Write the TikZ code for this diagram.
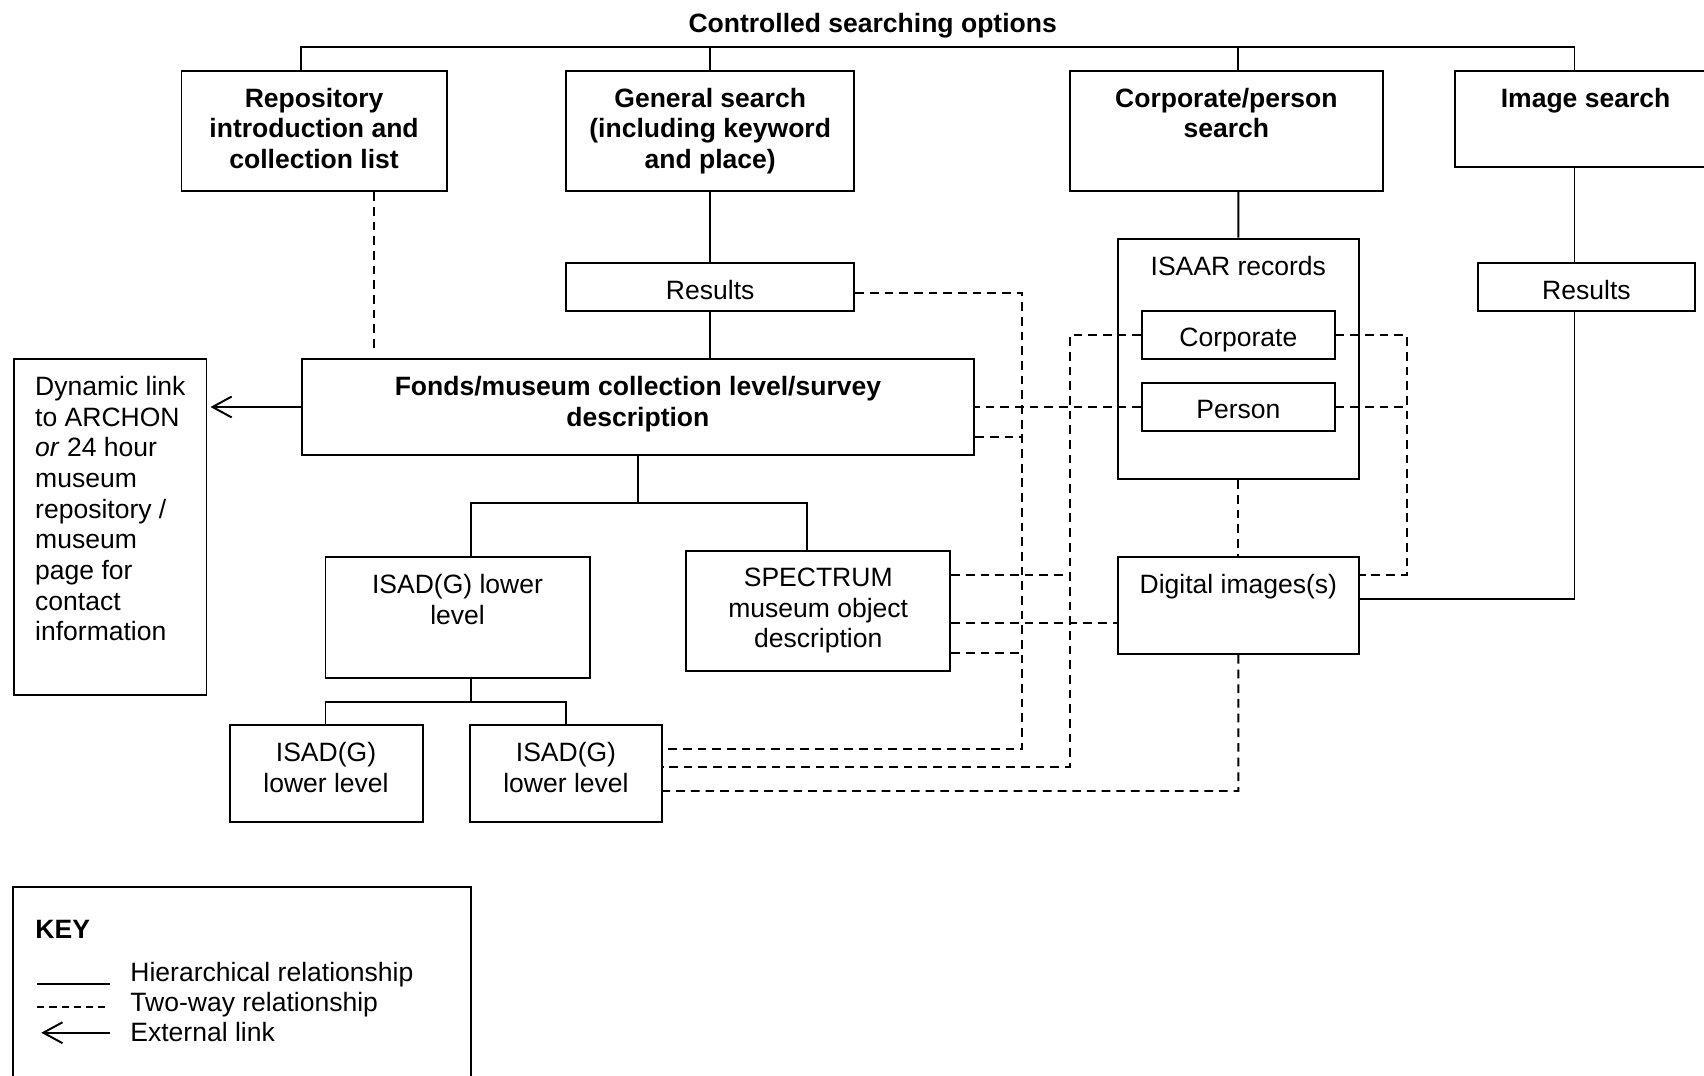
\documentclass[tikz,border=0pt]{standalone}
\usepackage{fontspec}
\setmainfont{Liberation Sans}
\usetikzlibrary{arrows.meta}
\newcommand\fs{\fontsize{12.2}{14.1}\selectfont}
\newcommand\mkbox[5]{%
  \node[boxshape, minimum width={(#4-#2)*0.5pt}, minimum height={(#5-#3)*0.5pt}] (#1) at ({(#2+#4)/2},{(#3+#5)/2}) {};}
\tikzset{
  boxshape/.style={draw, line width=0.9pt, inner sep=0pt, rectangle},
  txt/.style={inner sep=0pt, align=center, font=\fs},
  btxt/.style={inner sep=0pt, align=center, font=\fs\bfseries},
  hier/.style={line width=0.9pt},
  tw/.style={line width=0.85pt, dash pattern=on 4pt off 2.75pt},
  twkey/.style={line width=0.7pt, dash pattern=on 3.3pt off 2.3pt},
  ext/.style={line width=0.9pt, -{Straight Barb[length=8.8pt,width=9.6pt,line width=0.9pt]}},
}
\begin{document}
\begin{tikzpicture}[x=0.5pt, y=-0.5pt]
\useasboundingbox (0,0) rectangle (1568,990);
\clip (0,0) rectangle (1568,990);

% boxes
\mkbox{rep}{167}{65}{411}{176}
\mkbox{gen}{521}{65}{786}{176}
\mkbox{cps}{984.6}{65}{1272.4}{176}
\mkbox{img}{1338.5}{65}{1600}{153.7}
\mkbox{res1}{521}{241.7}{786}{286.5}
\mkbox{res2}{1360}{241.7}{1559.6}{286.5}
\mkbox{isaar}{1028.8}{219.6}{1250.3}{441.1}
\mkbox{corp}{1050.8}{285.9}{1228.2}{330.7}
\mkbox{pers}{1050.8}{352.1}{1228.2}{396.9}
\mkbox{dyn}{13.2}{330.6}{190}{639.9}
\mkbox{fonds}{277.5}{330.6}{896.5}{418.7}
\mkbox{isad}{299.5}{512.9}{543}{623.9}
\mkbox{spec}{631.3}{507}{874.4}{617.2}
\mkbox{dig}{1028.8}{512.9}{1250.3}{601.8}
\mkbox{llA}{211.3}{667.5}{388.8}{756.4}
\mkbox{llB}{432.6}{667.5}{609}{756.4}
\mkbox{key}{12.3}{816.5}{433.1}{1010}

% texts
\node[btxt] (title) at (803,23.5) {Controlled searching options};
\node[btxt] (t-rep) at (289,118) {Repository\\introduction and\\collection list};
\node[btxt] (t-gen) at (653.5,120.6) {General search\\(including keyword\\and place)};
\node[btxt] (t-cps) at (1128.5,104) {Corporate/person\\search};
\node[btxt] (t-img) at (1459,92.6) {Image search};
\node[txt] (t-res1) at (653.5,267) {Results};
\node[txt] (t-res2) at (1459.8,267) {Results};
\node[txt] (t-isaar) at (1139.5,245) {ISAAR records};
\node[txt] (t-corp) at (1139.5,313) {Corporate};
\node[txt] (t-pers) at (1139.5,376.5) {Person};
\node[btxt] (t-fonds) at (587,371.6) {Fonds/museum collection level/survey\\description};
\node[txt, align=left, anchor=west] (t-dyn) at (32,468) {Dynamic link\\to ARCHON\\\textit{or} 24 hour\\museum\\repository /\\museum\\page for\\contact\\information};
\node[txt] (t-isad) at (421,551.5) {ISAD(G) lower\\level};
\node[txt] (t-spec) at (752.9,562) {SPECTRUM\\museum object\\description};
\node[txt] (t-dig) at (1139.5,539.6) {Digital images(s)};
\node[txt] (t-llA) at (300,706) {ISAD(G)\\lower level};
\node[txt] (t-llB) at (520.8,706) {ISAD(G)\\lower level};

% hierarchical connectors
\coordinate (busL) at (277.3,43);
\coordinate (busR) at (1448.8,43);
\coordinate (busG) at (653.5,43);
\coordinate (busC) at (1139.5,43);
\draw[hier] (busL |- rep.north) -- (busL) -- (busR) -- (busR |- img.north);
\draw[hier] (busG) -- (busG |- gen.north);
\draw[hier] (busC) -- (busC |- cps.north);
\draw[hier] (gen.south) -- (res1.north);
\draw[hier] (res1.south) -- (res1.south |- fonds.north);
\draw[hier] (busC |- cps.south) -- (isaar.north);
\draw[hier] (busR |- img.south) -- (busR |- res2.north);
\coordinate (j1) at (1448.8,551.5);
\draw[hier] (busR |- res2.south) -- (j1) -- (j1 -| dig.east);

\coordinate (fb) at (587.4,462.6);
\coordinate (fbL) at (433.1,462.6);
\coordinate (fbR) at (742.2,462.6);
\draw[hier] (fb |- fonds.south) -- (fb);
\draw[hier] (fbL |- isad.north) -- (fbL) -- (fbR) -- (fbR |- spec.north);
\coordinate (ib) at (433.1,646);
\coordinate (ibL) at (299.5,646);
\coordinate (ibR) at (520.9,646);
\draw[hier] (ib |- isad.south) -- (ib);
\draw[hier] (ibL |- llA.north) -- (ibL) -- (ibR) -- (ibR |- llB.north);

% external link
\coordinate (ay) at (0,374.5);
\draw[ext, shorten >=1.4pt] (ay -| fonds.west) -- (ay -| dyn.east);

% two-way connectors
\coordinate (r1) at (344.5,0);
\draw[tw, shorten >=3.5pt] (r1 |- rep.south) -- (r1 |- fonds.north);
\coordinate (a1) at (940.6,270);
\coordinate (a2) at (940.6,689.6);
\draw[tw] (a1 -| res1.east) -- (a1) -- (a2) -- (a2 -| llB.east);
\coordinate (b1) at (984.6,308.3);
\coordinate (b2) at (984.6,705.5);
\draw[tw] (corp.west) -- (b1) -- (b2) -- (b2 -| llB.east);
\coordinate (c1) at (1294.4,308.3);
\coordinate (c2) at (1294.4,529.1);
\draw[tw] (corp.east) -- (c1) -- (c2) -- (c2 -| dig.east);
\draw[tw] (pers.east) -- (pers.east -| c1);
\draw[tw] (pers.west) -- (pers.west -| fonds.east);
\coordinate (fy) at (0,402.1);
\draw[tw] (fy -| fonds.east) -- (fy -| a1);
\draw[tw] (isaar.south) -- (dig.north);
\coordinate (d1) at (1139.5,727.9);
\draw[tw] (dig.south) -- (d1) -- (d1 -| llB.east);
\coordinate (s1) at (0,529.1);
\draw[tw] (s1 -| spec.east) -- (s1 -| b1);
\coordinate (s2) at (0,573.3);
\draw[tw] (s2 -| spec.east) -- (s2 -| dig.west);
\coordinate (s3) at (0,601.2);
\draw[tw] (s3 -| spec.east) -- (s3 -| a1);

% key
\node[btxt, anchor=west] (t-key) at (32.2,855) {KEY};
\coordinate (k1a) at (34.3,905.5); \coordinate (k1b) at (101.2,905.5);
\coordinate (k2a) at (34.3,926.4); \coordinate (k2b) at (101.2,926.4);
\coordinate (k3a) at (38,950.3);   \coordinate (k3b) at (101.2,950.3);
\draw[hier] (k1a) -- (k1b);
\draw[twkey] (k2a) -- (k2b);
\draw[ext] (k3b) -- (k3a);
\node[txt, anchor=west] (t-k1) at (119.6,896.6) {Hierarchical relationship};
\node[txt, anchor=west] (t-k2) at (119.6,924.6) {Two-way relationship};
\node[txt, anchor=west] (t-k3) at (119.6,950) {External link};
\end{tikzpicture}
\end{document}
